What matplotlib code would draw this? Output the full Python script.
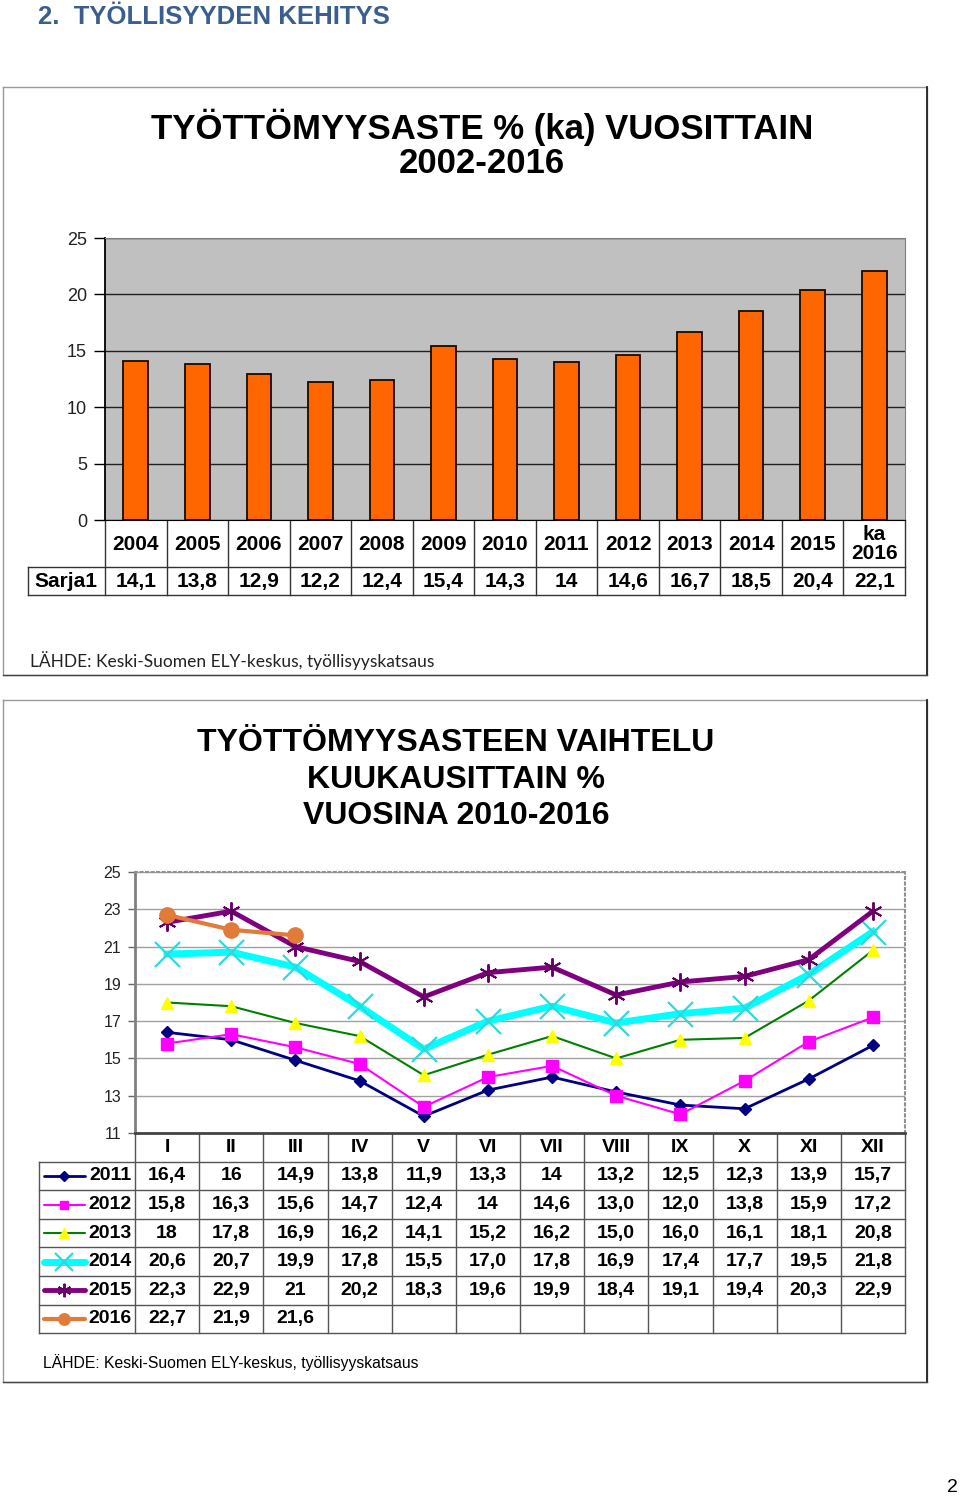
import matplotlib.pyplot as plt
from matplotlib import font_manager
import numpy as np

W, H = 960, 1496

# --- annual unemployment rate (bar chart) ---
years = ['2004', '2005', '2006', '2007', '2008', '2009', '2010', '2011',
         '2012', '2013', '2014', '2015', 'ka\n2016']
rates = ['14,1', '13,8', '12,9', '12,2', '12,4', '15,4', '14,3', '14',
         '14,6', '16,7', '18,5', '20,4', '22,1']

# --- monthly unemployment rate 2011-2016 (line chart) ---
months = ['I', 'II', 'III', 'IV', 'V', 'VI', 'VII', 'VIII', 'IX', 'X', 'XI', 'XII']
y2011 = ['16,4', '16', '14,9', '13,8', '11,9', '13,3', '14', '13,2', '12,5', '12,3', '13,9', '15,7']
y2012 = ['15,8', '16,3', '15,6', '14,7', '12,4', '14', '14,6', '13,0', '12,0', '13,8', '15,9', '17,2']
y2013 = ['18', '17,8', '16,9', '16,2', '14,1', '15,2', '16,2', '15,0', '16,0', '16,1', '18,1', '20,8']
y2014 = ['20,6', '20,7', '19,9', '17,8', '15,5', '17,0', '17,8', '16,9', '17,4', '17,7', '19,5', '21,8']
y2015 = ['22,3', '22,9', '21', '20,2', '18,3', '19,6', '19,9', '18,4', '19,1', '19,4', '20,3', '22,9']
y2016 = ['22,7', '21,9', '21,6']


def num(lst):
    return [float(s.replace(',', '.')) for s in lst]


fonts = {f.name for f in font_manager.fontManager.ttflist}
NARROW = 'Liberation Sans Narrow' if 'Liberation Sans Narrow' in fonts else 'Liberation Sans'
plt.rcParams['font.family'] = ['Liberation Sans', 'DejaVu Sans']

fig = plt.figure(figsize=(9.6, 14.96), dpi=100)


def box(x0, y0, x1, y1):
    # pixel box (y down) -> figure rect
    return [x0 / W, 1 - y1 / H, (x1 - x0) / W, (y1 - y0) / H]


bg = fig.add_axes([0, 0, 1, 1])
bg.set_xlim(0, W)
bg.set_ylim(H, 0)
bg.axis('off')

# page heading
bg.text(38, 17, '2.  TYÖLLISYYDEN KEHITYS', fontsize=18.5, fontweight='bold',
        color='#3a5f8f', va='center', ha='left')
bg.text(952, 1487, '2', fontsize=14, va='center', ha='center')

# panel frames
for (x0, y0, x1, y1) in [(3, 87, 927, 675), (3, 700, 927, 1382)]:
    bg.plot([x0, x1, x1, x0, x0], [y0, y0, y1, y1, y0], color='#9a9a9a', lw=1)
    bg.plot([x1, x1], [y0, y1], color='#222', lw=1.3)
    bg.plot([x0, x1], [y1, y1], color='#444', lw=1)

# ---------------- panel 1 ----------------
tsize = 27 if NARROW != 'Liberation Sans' else 25
bg.text(482, 127, 'TYÖTTÖMYYSASTE % (ka) VUOSITTAIN', family=NARROW, fontsize=tsize,
        fontweight='bold', ha='center', va='center')
bg.text(482, 163, '2002-2016', family=NARROW, fontsize=tsize, fontweight='bold',
        ha='center', va='center')

L1, R1, T1, B1 = 105, 905, 238, 520
ax1 = fig.add_axes(box(L1, T1, R1, B1))
ax1.set_facecolor('#c0c0c0')
xs = np.arange(len(years))
ax1.bar(xs, num(rates), width=0.4, color='#ff6600', edgecolor='#1a0a00', lw=1.3, zorder=3)
ax1.set_xlim(-0.5, len(years) - 0.5)
ax1.set_ylim(0, 25)
ax1.set_yticks(range(0, 26, 5))
ax1.set_xticks([])
ax1.yaxis.grid(True, color='#202020', lw=1)
ax1.set_axisbelow(True)
ax1.tick_params(axis='y', direction='out', length=8, width=1, labelsize=13,
                labelcolor='#222', pad=5)
for s in ['top', 'right']:
    ax1.spines[s].set_color('#808080')
ax1.spines['left'].set_color('black')
ax1.spines['left'].set_linewidth(1.3)
ax1.spines['bottom'].set_color('black')

# data table under bars
cw1 = (R1 - L1) / len(years)
for k in range(len(years) + 1):
    bg.plot([L1 + k * cw1] * 2, [B1, 595], color='#333', lw=1)
bg.plot([28, R1], [567, 567], color='#333', lw=1)
bg.plot([28, R1], [595, 595], color='#333', lw=1)
bg.plot([28, 28], [567, 595], color='#333', lw=1)
bg.text(66, 581, 'Sarja1', fontsize=15, fontweight='bold', ha='center', va='center')
for k, (yr, r) in enumerate(zip(years, rates)):
    cx = L1 + (k + 0.5) * cw1
    bg.text(cx, 544, yr, fontsize=15, fontweight='bold', ha='center', va='center',
            linespacing=1.0)
    bg.text(cx, 581, r, fontsize=15, fontweight='bold', ha='center', va='center')

bg.text(30, 661, 'LÄHDE: Keski-Suomen ELY-keskus, työllisyyskatsaus',
        family=['Lato', 'DejaVu Sans'], fontsize=12.5, color='#222', va='center')

# ---------------- panel 2 ----------------
tsize2 = 26 if NARROW != 'Liberation Sans' else 23
for i, line in enumerate(['TYÖTTÖMYYSASTEEN VAIHTELU', 'KUUKAUSITTAIN %', 'VUOSINA 2010-2016']):
    bg.text(456, 743 + i * 36.5, line, family=NARROW, fontsize=tsize2, fontweight='bold',
            ha='center', va='center')

L2, R2, T2, B2 = 135, 905, 872, 1133
ax2 = fig.add_axes(box(L2, T2, R2, B2))
ax2.set_xlim(-0.5, 11.5)
ax2.set_ylim(11, 25)
ax2.set_yticks(range(11, 26, 2))
ax2.set_xticks([])
ax2.yaxis.grid(True, color='#a0a0a0', lw=1)
ax2.set_axisbelow(True)
ax2.tick_params(axis='y', direction='out', length=5, width=1, color='#666',
                labelsize=11.5, labelcolor='#222', pad=5)
for s in ['top', 'right']:
    ax2.spines[s].set_color('#909090')
    ax2.spines[s].set_linestyle(':')
    ax2.spines[s].set_linewidth(1.5)
ax2.spines['left'].set_color('#808080')
ax2.spines['left'].set_linewidth(2)
ax2.spines['bottom'].set_color('#444')
ax2.spines['bottom'].set_linewidth(2)

styles = [
    ('2011', y2011, dict(color='#000080', lw=2, marker='D', ms=6.5, mfc='#000080', mec='#000080')),
    ('2012', y2012, dict(color='#ff00ff', lw=1.5, marker='s', ms=8.5, mfc='#ff00ff', mec='#ff00ff')),
    ('2013', y2013, dict(color='#008000', lw=1.5, marker='^', ms=9, mfc='#ffff00', mec='#ffff00')),
    ('2014', y2014, dict(color='#00ffff', lw=5, marker='x', ms=18, mew=1.6, mec='#30d8d8')),
    ('2015', y2015, dict(color='#800080', lw=3.5, marker=(6, 2, 0), ms=13, mew=1.4, mec='#660066')),
    ('2016', y2016, dict(color='#e07b39', lw=3, marker='o', ms=11, mfc='#e07b39', mec='#e07b39')),
]
for name, vals, st in styles:
    ax2.plot(np.arange(len(vals)), num(vals), zorder=3, **st)

# data table under lines
cw2 = (R2 - L2) / len(months)
rh = 28.6
rows_top = 1133 + rh
bottom = rows_top + rh * len(styles)
for k in range(len(months) + 1):
    bg.plot([L2 + k * cw2] * 2, [B2, bottom], color='#555', lw=1)
for r in range(len(styles) + 1):
    bg.plot([39, R2], [rows_top + r * rh] * 2, color='#555', lw=1)
bg.plot([39, 39], [rows_top, bottom], color='#555', lw=1)
for k, m in enumerate(months):
    bg.text(L2 + (k + 0.5) * cw2, 1147, m, fontsize=14, fontweight='bold', ha='center', va='center')
for r, (name, vals, st) in enumerate(styles):
    yc = rows_top + (r + 0.5) * rh
    line_st = {k: v for k, v in st.items() if k in ('color', 'lw')}
    mark_st = {k: v for k, v in st.items() if k != 'lw'}
    mark_st['ms'] = st['ms'] * 0.75
    bg.plot([44, 85], [yc, yc], solid_capstyle='round', **line_st)
    bg.plot([64], [yc], ls='none', **{k: v for k, v in mark_st.items() if k != 'color'},
            color=st['color'])
    bg.text(110, yc, name, fontsize=14, fontweight='bold', ha='center', va='center')
    for k, v in enumerate(vals):
        bg.text(L2 + (k + 0.5) * cw2, yc, v, fontsize=14, fontweight='bold',
                ha='center', va='center')

bg.text(43, 1363, 'LÄHDE: Keski-Suomen ELY-keskus, työllisyyskatsaus',
        fontsize=11.3, va='center')

fig.savefig('out.png', dpi=100)
